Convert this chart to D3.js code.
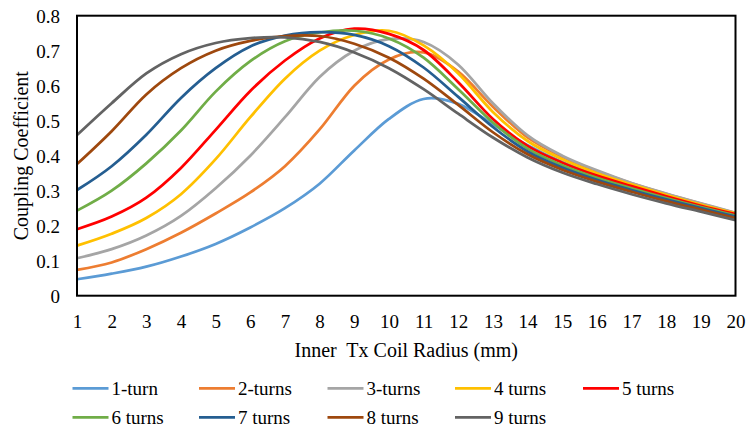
<!DOCTYPE html>
<html><head><meta charset="utf-8">
<script src="https://cdn.jsdelivr.net/npm/d3@7"></script>
</head>
<body style="margin:0">
<script>
const radius = [1,2,3,4,5,6,7,8,9,10,11,12,13,14,15,16,17,18,19,20];
const seriesNames = ["1-turn","2-turns","3-turns","4 turns","5 turns","6 turns","7 turns","8 turns","9 turns"];
const colors = ["#5B9BD5","#ED7D31","#A5A5A5","#FFC000","#FF0000","#70AD47","#255E91","#9E480E","#636363"];
const k1 = [0.047,0.063,0.083,0.112,0.148,0.195,0.25,0.32,0.415,0.505,0.562,0.548,0.49,0.43,0.382,0.345,0.313,0.284,0.258,0.232];
const k2 = [0.074,0.095,0.133,0.18,0.235,0.295,0.37,0.475,0.60,0.675,0.695,0.64,0.54,0.452,0.397,0.356,0.321,0.291,0.263,0.236];
const k3 = [0.107,0.133,0.172,0.228,0.307,0.40,0.51,0.625,0.70,0.733,0.725,0.66,0.55,0.458,0.40,0.358,0.322,0.292,0.264,0.237];
const k4 = [0.143,0.177,0.222,0.29,0.39,0.51,0.62,0.70,0.745,0.757,0.715,0.635,0.525,0.442,0.39,0.35,0.318,0.288,0.26,0.235];
const k5 = [0.19,0.226,0.28,0.365,0.474,0.585,0.672,0.735,0.763,0.748,0.702,0.61,0.505,0.428,0.38,0.343,0.313,0.284,0.257,0.233];
const k6 = [0.243,0.30,0.378,0.472,0.583,0.67,0.727,0.752,0.757,0.735,0.68,0.59,0.495,0.42,0.373,0.337,0.307,0.279,0.253,0.229];
const k7 = [0.302,0.37,0.46,0.565,0.65,0.712,0.743,0.753,0.745,0.713,0.652,0.568,0.482,0.412,0.366,0.331,0.302,0.275,0.25,0.226];
const k8 = [0.376,0.47,0.575,0.65,0.70,0.728,0.742,0.742,0.72,0.68,0.62,0.545,0.467,0.404,0.36,0.326,0.297,0.27,0.246,0.222];
const k9 = [0.459,0.55,0.635,0.69,0.722,0.736,0.738,0.725,0.695,0.65,0.59,0.52,0.452,0.395,0.352,0.319,0.29,0.264,0.24,0.216];
const yTicks = [0,0.1,0.2,0.3,0.4,0.5,0.6,0.7,0.8];
const yTickLabels = ["0","0.1","0.2","0.3","0.4","0.5","0.6","0.7","0.8"];
const xTitle = "Inner  Tx Coil Radius (mm)";
const yTitle = "Coupling Coefficient";

const FONT = "'Liberation Serif'";
const allSeries = [k1,k2,k3,k4,k5,k6,k7,k8,k9];
const svg = d3.select("body").append("svg").attr("width",747).attr("height",431)
  .style("display","block").attr("font-family","Liberation Serif").style("font-family",FONT);
const L = 77, R = 735.5, T = 15.7, B = 295.7;
const x = d3.scaleLinear().domain([1,20]).range([L,R]);
const y = d3.scaleLinear().domain([0,0.8]).range([B,T]);

function serif(sel, size){
  sel.attr("font-family","Liberation Serif").attr("font-size",size)
     .style("font-family",FONT).style("font-size",size+"px");
  return sel;
}

// axes (labels only)
const xAxis = d3.axisBottom(x).tickValues(radius).tickFormat(d3.format("d")).tickSize(0).tickPadding(0);
const gx = svg.append("g").attr("transform",`translate(0,${B})`).call(xAxis);
serif(gx, 19);
gx.select(".domain").remove();
serif(gx.selectAll("text").attr("y",null).attr("dy",null).attr("transform","translate(0,32.5)").attr("fill","#000"), 19);

const yAxis = d3.axisLeft(y).tickValues(yTicks).tickFormat((d,i)=>yTickLabels[i]).tickSize(0).tickPadding(17);
const gy = svg.append("g").attr("transform",`translate(${L},0)`).call(yAxis);
serif(gy, 19);
gy.select(".domain").remove();
serif(gy.selectAll("text").attr("dy","0.34em").attr("fill","#000"), 19);

// lines (Excel-style smoothing)
const line = d3.line().x((d,i)=>x(radius[i])).y(d=>y(d)).curve(d3.curveCardinal.tension(0));
svg.append("g").selectAll("path").data(allSeries).join("path")
  .attr("d",d=>line(d)).attr("fill","none")
  .attr("stroke",(d,i)=>colors[i]).attr("stroke-width",2.75)
  .attr("stroke-linejoin","round").attr("stroke-linecap","butt");

// frame
svg.append("rect").attr("x",L).attr("y",T).attr("width",R-L).attr("height",B-T)
  .attr("fill","none").attr("stroke","#000").attr("stroke-width",2);

// titles
serif(svg.append("text").attr("x",(L+R)/2).attr("y",357).attr("text-anchor","middle")
  .style("white-space","pre").attr("xml:space","preserve"), 20).text(xTitle);
serif(svg.append("text").attr("transform",`translate(28,${(T+B)/2}) rotate(-90)`).attr("text-anchor","middle"), 20).text(yTitle);

// legend
const colX = [72.5,199,327.5,455,583];
const rowY = [388.3,417.3];
const lg = svg.append("g");
seriesNames.forEach((name,i)=>{
  const cx = colX[i%5], cy = rowY[Math.floor(i/5)];
  lg.append("line").attr("x1",cx).attr("x2",cx+36).attr("y1",cy).attr("y2",cy)
    .attr("stroke",colors[i]).attr("stroke-width",2.75);
  serif(lg.append("text").attr("x",cx+39).attr("y",cy+6.3), 19).text(name);
});
</script></body></html>
